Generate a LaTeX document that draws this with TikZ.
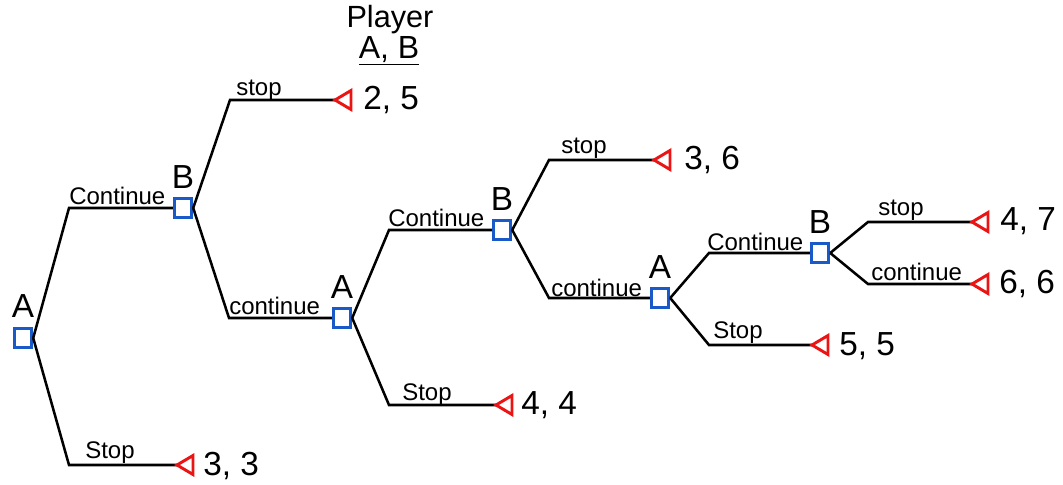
\documentclass[tikz,border=0pt]{standalone}
\usepackage{fontspec}
\setmainfont{Liberation Sans}
\definecolor{boxblue}{RGB}{25,90,200}
\definecolor{trired}{RGB}{235,20,20}
\tikzset{
  dec/.style={draw=boxblue, line width=2.3pt, minimum width=13pt, minimum height=14.5pt, inner sep=0pt, fill=white},
  tri/.style={draw=trired, line width=2.2pt, line join=miter},
  branch/.style={line width=1.9pt, black},
  act/.style={font=\fontsize{18}{18}\selectfont, inner sep=0pt, anchor=base west},
  pay/.style={font=\fontsize{25}{25}\selectfont, inner sep=0pt, anchor=west},
  who/.style={font=\fontsize{25}{25}\selectfont, inner sep=0pt, anchor=south},
}
\begin{document}
\begin{tikzpicture}[x=0.75pt, y=-0.75pt]
\useasboundingbox (0,0) rectangle (1063,485);

% header
\node[font=\fontsize{23}{23}\selectfont, inner sep=0pt] (hdr) at (390,20) {Player};
\node[font=\fontsize{24}{24}\selectfont, inner sep=0pt] (hdr2) at (389,51) {\underline{A, B}};

% bend coordinates
\coordinate (a1u) at (69,208);  \coordinate (a1d) at (69,465);
\coordinate (b1u) at (230,100); \coordinate (b1d) at (229,318);
\coordinate (a2u) at (389,230); \coordinate (a2d) at (389,405);
\coordinate (b2u) at (549,160); \coordinate (b2d) at (549,298);
\coordinate (a3u) at (709,253); \coordinate (a3d) at (709,345);
\coordinate (b3u) at (868,222); \coordinate (b3d) at (868,284);

% terminal tips
\coordinate (t1) at (177,465);
\coordinate (t2) at (335,100);
\coordinate (t3) at (496,405);
\coordinate (t4) at (654,160);
\coordinate (t5) at (812,345);
\coordinate (t6) at (972,222);
\coordinate (t7) at (972,284);

% decision nodes
\node[dec, label={[who, label distance=7pt]above:A}] (A1) at (23,338) {};
\node[dec, label={[who, label distance=6pt]above:B}] (B1) at (183,208) {};
\node[dec, label={[who, label distance=6pt]above:A}] (A2) at (342,318) {};
\node[dec, label={[who, label distance=6pt]above:B}] (B2) at (502,230) {};
\node[dec, label={[who, label distance=6pt]above:A}] (A3) at (660,298) {};
\node[dec, label={[who, label distance=6pt]above:B}] (B3) at (820,253) {};

% branches
\draw[branch] (A1.east) -- (a1u) -- (B1.west);
\draw[branch] (A1.east) -- (a1d) -- (t1);
\draw[branch] (B1.east) -- (b1u) -- (t2);
\draw[branch] (B1.east) -- (b1d) -- (A2.west);
\draw[branch] (A2.east) -- (a2u) -- (B2.west);
\draw[branch] (A2.east) -- (a2d) -- (t3);
\draw[branch] (B2.east) -- (b2u) -- (t4);
\draw[branch] (B2.east) -- (b2d) -- (A3.west);
\draw[branch] (A3.east) -- (a3u) -- (B3.west);
\draw[branch] (A3.east) -- (a3d) -- (t5);
\draw[branch] (B3.east) -- (b3u) -- (t6);
\draw[branch] (B3.east) -- (b3d) -- (t7);

% terminal triangles
\foreach \t in {t1,t2,t3,t4,t5,t6,t7}
  \draw[tri] (\t) -- ++(16,-9.5) -- ++(0,19) -- cycle;

% action labels
\node[act] (l1) at (69,204) {Continue};
\node[act] (l2) at (85,458) {Stop};
\node[act] (l3) at (236,95) {stop};
\node[act] (l4) at (229,314) {continue};
\node[act] (l5) at (388,226) {Continue};
\node[act] (l6) at (402,400) {Stop};
\node[act] (l7) at (561,153) {stop};
\node[act] (l8) at (551,296) {continue};
\node[act] (l9) at (707,250) {Continue};
\node[act] (l10) at (713,338) {Stop};
\node[act] (l11) at (878,215) {stop};
\node[act] (l12) at (871,280) {continue};

% payoffs
\node[pay] (p1) at (203,466) {3, 3};
\node[pay] (p2) at (363,100) {2, 5};
\node[pay] (p3) at (521,405) {4, 4};
\node[pay] (p4) at (684,160) {3, 6};
\node[pay] (p5) at (839,346) {5, 5};
\node[pay] (p6) at (1000,221) {4, 7};
\node[pay] (p7) at (999,284) {6, 6};
\end{tikzpicture}
\end{document}
